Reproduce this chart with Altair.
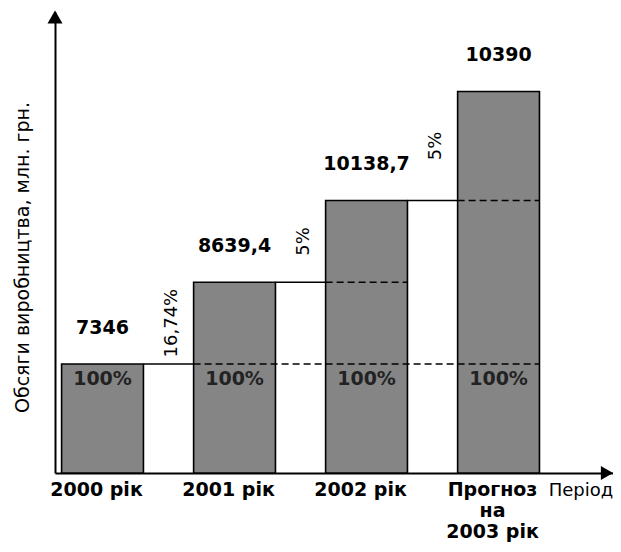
import altair as alt
import pandas as pd

# ---- data ----
periods = ["2000 рік", "2001 рік", "2002 рік", "Прогноз\nна\n2003 рік"]
value_labels = ["7346", "8639,4", "10138,7", "10390"]
# schematic bar heights (in units of the 2000 bar), as drawn
levels = [1.0, 1.75, 2.5, 3.5]
base_share = ["100%", "100%", "100%", "100%"]
growth_labels = ["16,74%", "5%", "5%"]

HW = 0.31  # half bar width in index units
FONT = "DejaVu Sans"

bars = pd.DataFrame({
    "i": list(range(len(periods))),
    "period": periods,
    "value": value_labels,
    "level": levels,
    "share": base_share,
})
bars["base"] = levels[0]

growth = pd.DataFrame({
    "i": list(range(len(growth_labels))),
    "label": growth_labels,
    "lvl_a": levels[:-1],
    "lvl_b": levels[1:],
})

# dashed guide lines: level of a previous year continued across later bars
dashed = pd.DataFrame({
    "start": [1, 2, 3],
    "end": [3, 2, 3],
    "level": [levels[0], levels[1], levels[2]],
})

xs = alt.Scale(domain=[-0.36, 3.867], nice=False, zero=False)
ys = alt.Scale(domain=[0, 4.229], nice=False, zero=False)

x_axis = alt.Axis(labels=False, ticks=False, grid=False, title=None,
                  domainColor="black", domainWidth=2)
y_axis = alt.Axis(labels=False, ticks=False, grid=False,
                  title="Обсяги виробництва, млн. грн.",
                  domainColor="black", domainWidth=2,
                  titleFont=FONT, titleFontSize=19, titleFontWeight="normal",
                  titleColor="black", titleAngle=270, titleX=-33, titleY=245,
                  titleAlign="center", titleBaseline="middle")

base = alt.Chart(bars)

rects = base.transform_calculate(
    x1=f"datum.i - {HW}", x2=f"datum.i + {HW}"
).mark_rect(fill="#858585", stroke="black", strokeWidth=1.6).encode(
    x=alt.X("x1:Q", scale=xs, axis=x_axis),
    x2="x2:Q",
    y=alt.Y("level:Q", scale=ys, axis=y_axis),
    y2=alt.datum(0),
)

connectors = alt.Chart(growth).transform_calculate(
    x1=f"datum.i + {HW}", x2=f"datum.i + 1 - {HW}"
).mark_rule(color="black", strokeWidth=1.6).encode(
    x=alt.X("x1:Q", scale=xs), x2="x2:Q", y=alt.Y("lvl_a:Q", scale=ys)
)

dash_lines = alt.Chart(dashed).transform_calculate(
    x1=f"datum.start - {HW}", x2=f"datum.end + {HW}"
).mark_rule(color="black", strokeWidth=1.6, strokeDash=[7, 4]).encode(
    x=alt.X("x1:Q", scale=xs), x2="x2:Q", y=alt.Y("level:Q", scale=ys)
)

value_text = base.mark_text(font=FONT, fontSize=19, fontWeight="bold",
                            color="black", baseline="middle", dy=-36).encode(
    x=alt.X("i:Q", scale=xs), y=alt.Y("level:Q", scale=ys), text="value:N"
)

share_text = base.mark_text(font=FONT, fontSize=19, fontWeight="bold",
                            color="#111111", opacity=0.85,
                            baseline="middle", dy=15).encode(
    x=alt.X("i:Q", scale=xs), y=alt.Y("base:Q", scale=ys), text="share:N"
)

growth_text = alt.Chart(growth).transform_calculate(
    xm="datum.i + 0.5", ym="(datum.lvl_a + datum.lvl_b) / 2"
).mark_text(font=FONT, fontSize=18, color="black", angle=270,
            align="center", baseline="middle", dy=3).encode(
    x=alt.X("xm:Q", scale=xs), y=alt.Y("ym:Q", scale=ys), text="label:N"
)

period_text = base.mark_text(font=FONT, fontSize=19, fontWeight="bold",
                             color="black", baseline="top", lineBreak="\n",
                             lineHeight=21, dx=-6, dy=8).encode(
    x=alt.X("i:Q", scale=xs), y=alt.datum(0, scale=ys), text="period:N"
)

axis_name = alt.Chart(pd.DataFrame({"t": ["Період"]})).mark_text(
    font=FONT, fontSize=18, color="black", align="center", baseline="top"
).encode(x=alt.value(526), y=alt.value(470), text="t:N")

arrow_y = alt.Chart(pd.DataFrame({"a": [0]})).mark_point(
    shape="triangle-up", size=225, filled=True, color="black", opacity=1
).encode(x=alt.value(0), y=alt.value(5))

arrow_x = alt.Chart(pd.DataFrame({"a": [0]})).mark_point(
    shape="triangle-right", size=200, filled=True, color="black", opacity=1
).encode(x=alt.value(552), y=alt.value(461))

chart = alt.layer(
    rects, connectors, dash_lines, value_text, share_text, growth_text,
    period_text, axis_name, arrow_y, arrow_x
).properties(
    width=558, height=461,
    autosize=alt.AutoSizeParams(type="none"),
    padding={"left": 47, "top": 4, "right": 0, "bottom": 70},
).configure_view(stroke=None)

chart.save("out.html", embed_options={"renderer": "svg", "actions": False})
